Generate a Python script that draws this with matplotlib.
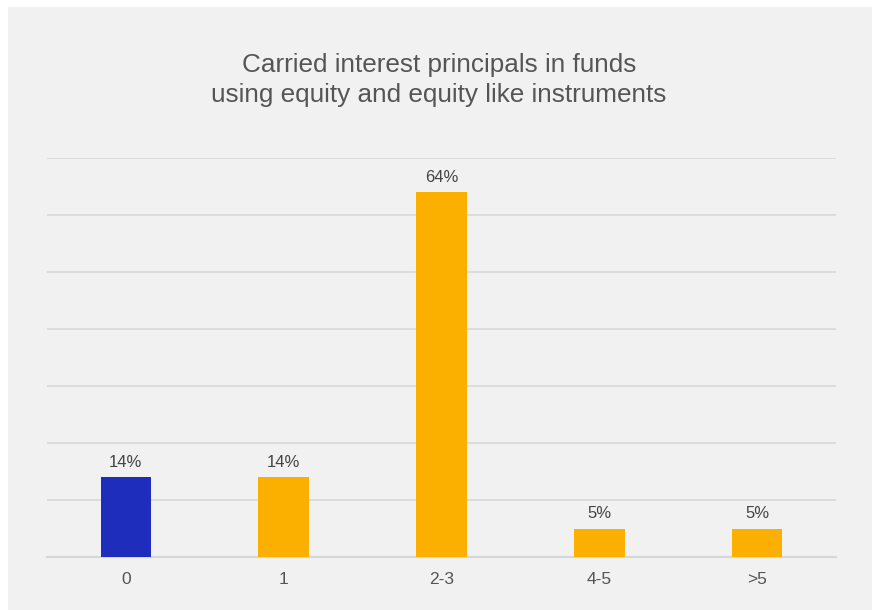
import matplotlib.pyplot as plt
from matplotlib.patches import Rectangle

# principals per fund
categories = ['0', '1', '2-3', '4-5', '>5']
shares = [14, 14, 64, 5, 5]
bar_colors = ['#1f2dbd', '#fbb000', '#fbb000', '#fbb000', '#fbb000']
grid_ticks = [0, 10, 20, 30, 40, 50, 60, 70]

plt.rcParams['font.family'] = ['Liberation Sans', 'DejaVu Sans']

fig = plt.figure(figsize=(8.73, 6.10), dpi=100, facecolor='white')
# grey card behind the chart
fig.patches.append(Rectangle((8 / 873, 0), 1 - 9 / 873, 1 - 7 / 610,
                             transform=fig.transFigure, facecolor='#f1f1f1',
                             edgecolor='none', zorder=-1))

ax = fig.add_axes([47 / 873, 53 / 610, 789 / 873, 399 / 610])
ax.set_facecolor('none')

x = range(len(categories))
bars = ax.bar(x, shares, width=0.32, color=bar_colors, zorder=3)
for b, v in zip(bars, shares):
    ax.text(b.get_x() + b.get_width() / 2, v + 1.3, f'{v}%', ha='center', va='bottom',
            fontsize=12, color='#444444')

ax.set_xlim(-0.5, len(categories) - 0.5)
ax.set_ylim(0, 70)
ax.set_yticks(grid_ticks)
ax.set_yticklabels([])
ax.tick_params(axis='y', length=0)
ax.grid(axis='y', color='#dadada', linewidth=1.3, zorder=0)
ax.set_xticks(list(x))
ax.set_xticklabels(categories, fontsize=12.5, color='#555555')
ax.tick_params(axis='x', length=0, pad=11)
for s in ['top', 'right', 'left']:
    ax.spines[s].set_visible(False)
ax.spines['bottom'].set_color('#d6d6d6')
ax.spines['bottom'].set_linewidth(1.6)

fig.text(0.503, 1 - 80 / 610, 'Carried interest principals in funds\nusing equity and equity like instruments',
         ha='center', va='center', fontsize=18.8, color='#555555', linespacing=1.32)

fig.savefig('out.png', dpi=100, facecolor=fig.get_facecolor())
